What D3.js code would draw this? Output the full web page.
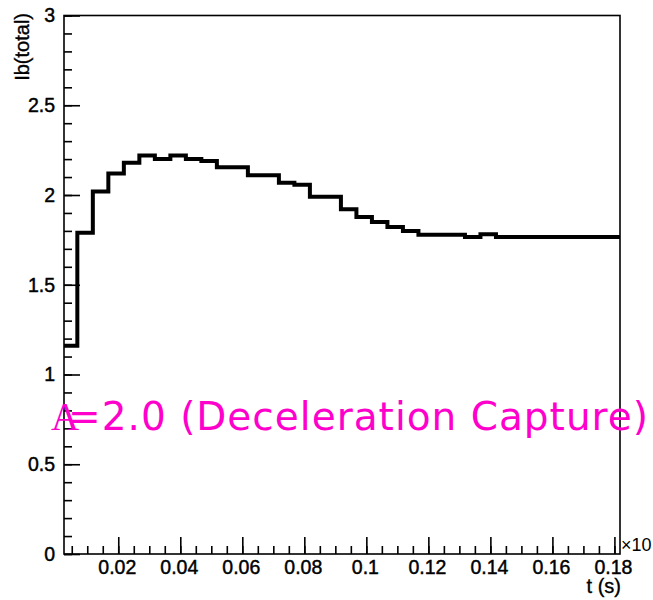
<!DOCTYPE html>
<html>
<head>
<meta charset="utf-8">
<script src="https://cdn.jsdelivr.net/npm/d3@7"></script>
<style>
  body { margin: 0; background: #fff; }
  svg { display: block; }
</style>
</head>
<body>
<svg id="chart" width="653" height="600"></svg>
<script>
// histogram: 36 bins of width 0.005 from 0.0018 to 0.1818
const binLow = 0.0018;
const binUp = 0.1818;
const ibTotal = [
  1.16, 1.79, 2.02, 2.12, 2.18, 2.22, 2.20, 2.22, 2.20, 2.19,
  2.155, 2.155, 2.11, 2.11, 2.068, 2.057, 1.99, 1.99, 1.92, 1.877,
  1.849, 1.822, 1.80, 1.779, 1.779, 1.779, 1.766, 1.781, 1.766, 1.766,
  1.766, 1.766, 1.766, 1.766, 1.766, 1.766
];
const xMajorTicks = [0.02, 0.04, 0.06, 0.08, 0.1, 0.12, 0.14, 0.16, 0.18];
const yMajorTicks = [0, 0.5, 1, 1.5, 2, 2.5, 3];
const xTitle = "t (s)";
const yTitle = "Ib(total)";
const label = "=2.0 (Deceleration Capture)";

const svg = d3.select("#chart");
const frame = { left: 64, right: 620, top: 15.5, bottom: 554 };

const x = d3.scaleLinear().domain([0.0025, 0.1818]).range([frame.left, frame.right]);
const y = d3.scaleLinear().domain([0, 3]).range([frame.bottom, frame.top]);

const binW = (binUp - binLow) / ibTotal.length;
const pts = ibTotal.map((v, i) => [binLow + i * binW, v]);
pts.push([binUp, ibTotal[ibTotal.length - 1]]);

svg.append("defs").append("clipPath").attr("id", "clip")
  .append("rect")
  .attr("x", frame.left).attr("y", frame.top)
  .attr("width", frame.right - frame.left)
  .attr("height", frame.bottom - frame.top);

// histogram outline
const line = d3.line()
  .x(d => x(d[0]))
  .y(d => y(d[1]))
  .curve(d3.curveStepAfter);

svg.append("path")
  .attr("clip-path", "url(#clip)")
  .attr("fill", "none")
  .attr("stroke", "#000")
  .attr("stroke-width", 4)
  .attr("d", line(pts));

const labelFont = "'Liberation Sans', Arial, sans-serif";

// x axis, ticks inside
const xMinor = d3.range(0.005, 0.1801, 0.005);
svg.append("g")
  .attr("transform", `translate(0,${frame.bottom})`)
  .call(d3.axisBottom(x).tickValues(xMinor).tickSize(-8).tickFormat(""))
  .call(g => g.select(".domain").remove());

svg.append("g")
  .attr("transform", `translate(0,${frame.bottom})`)
  .call(d3.axisBottom(x).tickValues(xMajorTicks).tickSize(-17).tickPadding(6).tickFormat(d => d))
  .call(g => g.select(".domain").remove())
  .call(g => g.selectAll("text")
    .attr("dx", -1.5)
    .attr("fill", "#000")
    .attr("stroke", "#000")
    .attr("stroke-width", 0.45)
    .style("font-family", labelFont)
    .style("font-size", "19.5px"));

// y axis, ticks inside
const yMinor = d3.range(0, 3.001, 0.1);
svg.append("g")
  .attr("transform", `translate(${frame.left},0)`)
  .call(d3.axisLeft(y).tickValues(yMinor).tickSize(-8).tickFormat(""))
  .call(g => g.select(".domain").remove());

svg.append("g")
  .attr("transform", `translate(${frame.left},0)`)
  .call(d3.axisLeft(y).tickValues(yMajorTicks).tickSize(-16).tickPadding(9).tickFormat(d => d))
  .call(g => g.select(".domain").remove())
  .call(g => g.selectAll("text")
    .attr("fill", "#000")
    .attr("stroke", "#000")
    .attr("stroke-width", 0.45)
    .style("font-family", labelFont)
    .style("font-size", "19.5px"));

svg.selectAll(".tick line").attr("stroke", "#000").attr("stroke-width", 1.6);

// frame
svg.append("rect")
  .attr("x", frame.left).attr("y", frame.top)
  .attr("width", frame.right - frame.left)
  .attr("height", frame.bottom - frame.top)
  .attr("fill", "none")
  .attr("stroke", "#000")
  .attr("stroke-width", 1.6);

// titles
svg.append("text")
  .attr("x", frame.right + 1).attr("y", 593)
  .attr("text-anchor", "end")
  .attr("stroke", "#000")
  .attr("stroke-width", 0.35)
  .style("font-family", labelFont)
  .style("font-size", "20px")
  .text(xTitle);

svg.append("text")
  .attr("transform", "translate(29,13) rotate(-90)")
  .attr("text-anchor", "end")
  .attr("stroke", "#000")
  .attr("stroke-width", 0.35)
  .style("font-family", labelFont)
  .style("font-size", "20px")
  .text(yTitle);

svg.append("text")
  .attr("x", 621).attr("y", 551)
  .style("font-family", labelFont)
  .style("font-size", "18px")
  .text("\u00d710");

// annotation
const magenta = "#ff00cc";
svg.append("text")
  .attr("x", 51).attr("y", 430)
  .attr("fill", magenta)
  .style("font-family", "'Liberation Serif', 'Times New Roman', serif")
  .style("font-size", "39px")
  .text("A");

svg.append("text")
  .attr("x", 68).attr("y", 430)
  .attr("fill", magenta)
  .attr("textLength", 580)
  .attr("lengthAdjust", "spacing")
  .style("font-family", "'DejaVu Sans', sans-serif")
  .style("font-size", "39px")
  .text(label);
</script>
</body>
</html>
